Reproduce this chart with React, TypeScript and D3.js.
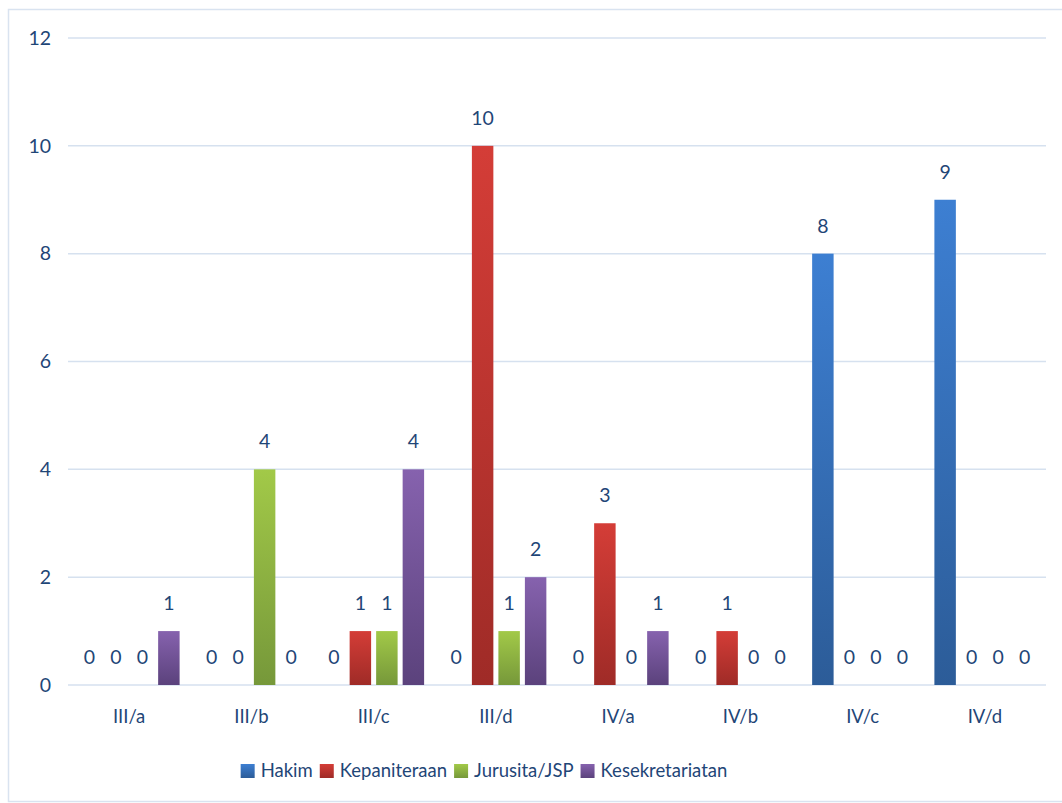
import React, { useEffect, useRef } from "react";
import * as d3 from "d3";

const categories = ["III/a", "III/b", "III/c", "III/d", "IV/a", "IV/b", "IV/c", "IV/d"];
const seriesNames = ["Hakim", "Kepaniteraan", "Jurusita/JSP", "Kesekretariatan"];
const hakim = [0, 0, 0, 0, 0, 0, 8, 9];
const kepaniteraan = [0, 0, 1, 10, 3, 1, 0, 0];
const jurusita = [0, 4, 1, 1, 0, 0, 0, 0];
const kesekretariatan = [1, 0, 4, 2, 1, 0, 0, 0];
const yTicks = [0, 2, 4, 6, 8, 10, 12];
const colorsTop = ["#3d7fd2", "#d43d37", "#a2c948", "#8662ae"];
const colorsBottom = ["#2c5c98", "#9f2b27", "#76983a", "#5b427c"];

const W = 1062;
const H = 803;
const TEXT = "#1f4677";
const FONT = "Lato, 'Open Sans', sans-serif";

export default function App() {
  const ref = useRef<SVGSVGElement>(null);

  useEffect(() => {
    const svg = d3.select(ref.current);
    svg.selectAll("*").remove();
    const values = [hakim, kepaniteraan, jurusita, kesekretariatan];

    const left = 68, right = 1046, top = 38, bottom = 685;
    const x0 = d3.scaleBand<string>().domain(categories).range([left, right]).paddingInner(0).paddingOuter(0);
    const groupW = 106;
    const x1 = d3.scaleBand<number>().domain([0, 1, 2, 3]).range([0, groupW]).paddingInner(0.19).paddingOuter(0.095);
    const y = d3.scaleLinear().domain([0, 12]).range([bottom, top]);

    const defs = svg.append("defs");
    seriesNames.forEach((_, i) => {
      const g = defs.append("linearGradient").attr("id", `g${i}`).attr("x1", 0).attr("y1", 0).attr("x2", 0).attr("y2", 1);
      g.append("stop").attr("offset", "0%").attr("stop-color", colorsTop[i]);
      g.append("stop").attr("offset", "100%").attr("stop-color", colorsBottom[i]);
    });

    // border
    svg.append("rect").attr("x", 8.5).attr("y", 9.5).attr("width", W + 10).attr("height", 792)
      .attr("fill", "#fff").attr("stroke", "#d9e3f0").attr("stroke-width", 1.5);

    // grid
    svg.append("g").selectAll("line").data(yTicks).join("line")
      .attr("x1", left).attr("x2", right)
      .attr("y1", (d) => y(d)).attr("y2", (d) => y(d))
      .attr("stroke", "#d6e1ef").attr("stroke-width", 1.5);

    svg.append("g").selectAll("text").data(yTicks).join("text")
      .attr("x", 51).attr("y", (d) => y(d)).attr("dy", "0.35em")
      .attr("text-anchor", "end").attr("fill", TEXT).attr("font-size", 19.5).attr("font-family", FONT)
      .text((d) => String(d));

    // category labels
    svg.append("g").selectAll("text").data(categories).join("text")
      .attr("x", (d) => (x0(d) as number) + x0.bandwidth() / 2).attr("y", 723)
      .attr("text-anchor", "middle").attr("fill", TEXT).attr("font-size", 18.5).attr("font-family", FONT)
      .text((d) => d);

    // bars
    categories.forEach((c, ci) => {
      const gx = (x0(c) as number) + (x0.bandwidth() - groupW) / 2;
      values.forEach((vals, si) => {
        const v = vals[ci];
        const bx = gx + (x1(si) as number);
        if (v > 0) {
          svg.append("rect").attr("x", bx).attr("y", y(v)).attr("width", x1.bandwidth())
            .attr("height", y(0) - y(v)).attr("fill", `url(#g${si})`);
        }
        svg.append("text").attr("x", bx + x1.bandwidth() / 2).attr("y", y(v) - 21)
          .attr("text-anchor", "middle").attr("fill", TEXT).attr("font-size", 19.5).attr("font-family", FONT)
          .text(String(v));
      });
    });

    // legend
    const lg = svg.append("g");
    const items: { g: any; w: number }[] = [];
    seriesNames.forEach((n, i) => {
      const g = lg.append("g");
      g.append("rect").attr("x", 0).attr("y", -7).attr("width", 14).attr("height", 14).attr("fill", `url(#g${i})`);
      const t = g.append("text").attr("x", 20).attr("y", 0).attr("dy", "0.35em")
        .attr("fill", TEXT).attr("font-size", 18.5).attr("font-family", FONT).text(n);
      const tw = (t.node() as SVGTextElement).getComputedTextLength();
      items.push({ g, w: 20 + tw });
    });
    const gap = 7;
    const total = items.reduce((a, b) => a + b.w, 0) + gap * (items.length - 1);
    let cx = 247 + (721 - 247 - total) / 2;
    items.forEach((it) => {
      it.g.attr("transform", `translate(${cx},771)`);
      cx += it.w + gap;
    });
  }, []);

  return <svg ref={ref} width={W} height={H} style={{ display: "block", position: "absolute", left: 0, top: 0 }} />;
}
